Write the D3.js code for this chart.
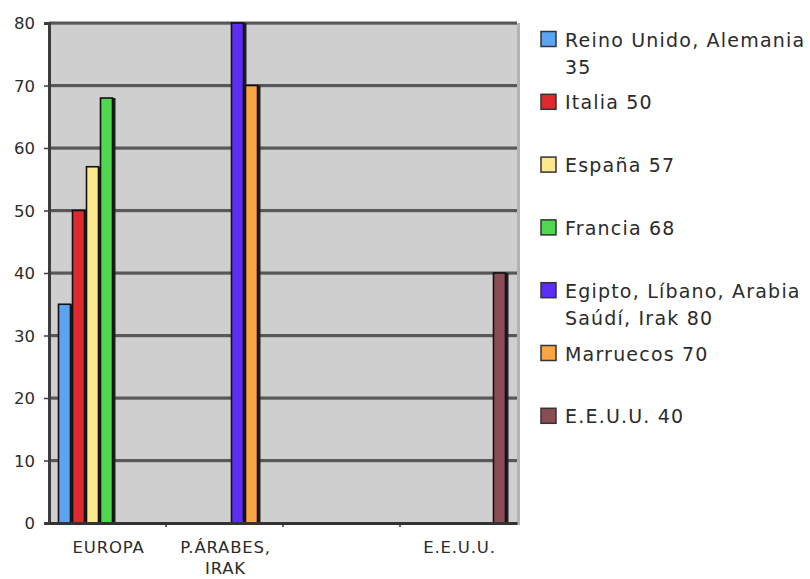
<!DOCTYPE html>
<html>
<head>
<meta charset="utf-8">
<script src="https://cdn.jsdelivr.net/npm/d3@7"></script>
<style>
  html, body { margin: 0; padding: 0; background: #fff; }
  svg { display: block; }
  text { font-family: "DejaVu Sans", sans-serif; fill: #2b2b2b; }
</style>
</head>
<body>
<svg id="chart" width="810" height="579"></svg>
<script>
// Categories along the x axis (the third group has no label)
const categories = ["EUROPA", "P.ÁRABES, IRAK", "", "E.E.U.U."];

// One series per country group, as listed in the legend
const seriesNames = [
  "Reino Unido, Alemania 35",
  "Italia 50",
  "España 57",
  "Francia 68",
  "Egipto, Líbano, Arabia Saúdí, Irak 80",
  "Marruecos 70",
  "E.E.U.U. 40"
];

// Value of each series in each category (0 = no bar)
const reinoUnido = [35, 0, 0, 0];
const italia     = [50, 0, 0, 0];
const espana     = [57, 0, 0, 0];
const francia    = [68, 0, 0, 0];
const egipto     = [0, 80, 0, 0];
const marruecos  = [0, 70, 0, 0];
const eeuu       = [0, 0, 0, 40];
const seriesValues = [reinoUnido, italia, espana, francia, egipto, marruecos, eeuu];

const seriesColors = ["#5aa4f2", "#dd2a2e", "#fbe98c", "#4fd84f", "#5b2ef5", "#fba443", "#8b4d55"];

const yTicks = [0, 10, 20, 30, 40, 50, 60, 70, 80];

const svg = d3.select("#chart");

const plot = { left: 49, right: 517, top: 23, bottom: 523 };

const y = d3.scaleLinear().domain([0, 80]).range([plot.bottom, plot.top]);
const x0 = d3.scaleBand().domain(d3.range(categories.length)).range([plot.left, plot.right]);
const x1 = d3.scaleBand().domain(d3.range(seriesNames.length)).range([9.5, 9.5 + 14 * seriesNames.length]);

// Plot background
svg.append("rect")
  .attr("x", plot.left).attr("y", plot.top)
  .attr("width", plot.right - plot.left).attr("height", plot.bottom - plot.top)
  .attr("fill", "#cfcfcf");

// Right border of the plot area
svg.append("line")
  .attr("x1", plot.right + 1.5).attr("x2", plot.right + 1.5)
  .attr("y1", plot.top).attr("y2", plot.bottom + 2)
  .attr("stroke", "#b3b3b3").attr("stroke-width", 3);

// Horizontal gridlines
const grid = svg.append("g");
yTicks.filter(d => d > 0).forEach(d => {
  grid.append("line")
    .attr("x1", plot.left).attr("x2", plot.right)
    .attr("y1", y(d) + 1.5).attr("y2", y(d) + 1.5)
    .attr("stroke", "#a4a4a4").attr("stroke-width", 1);
  grid.append("line")
    .attr("x1", plot.left).attr("x2", plot.right)
    .attr("y1", y(d)).attr("y2", y(d))
    .attr("stroke", "#585858").attr("stroke-width", 2.8);
});

// Bars: dark shadow on the right, then the coloured bar with a black outline
const bars = [];
seriesValues.forEach((vals, s) => {
  vals.forEach((v, c) => { if (v > 0) bars.push({ s, c, v }); });
});

const barG = svg.append("g");
barG.selectAll("rect.shadow").data(bars).join("rect")
  .attr("class", "shadow")
  .attr("x", d => x0(d.c) + x1(d.s) + 3)
  .attr("y", d => y(d.v))
  .attr("width", 12)
  .attr("height", d => plot.bottom - y(d.v))
  .attr("fill", "#1e1e1e");
barG.selectAll("rect.bar").data(bars).join("rect")
  .attr("class", "bar")
  .attr("x", d => x0(d.c) + x1(d.s))
  .attr("y", d => y(d.v))
  .attr("width", 12)
  .attr("height", d => plot.bottom - y(d.v))
  .attr("fill", d => seriesColors[d.s])
  .attr("stroke", "#111")
  .attr("stroke-width", 1.6);

// Y axis
const yAxis = svg.append("g").attr("transform", `translate(${plot.left},0)`)
  .call(d3.axisLeft(y).tickValues(yTicks).tickSize(5).tickPadding(9).tickFormat(d3.format("d")));
yAxis.select(".domain").attr("stroke", "#3c3c3c").attr("stroke-width", 3);
yAxis.selectAll(".tick line").attr("stroke", "#3c3c3c").attr("stroke-width", 1.5);
yAxis.selectAll(".tick text")
  .attr("font-size", 16.5).attr("font-family", "DejaVu Sans, sans-serif")
  .attr("fill", "#2b2b2b").attr("dy", "0.36em");

// X axis
const xAxis = svg.append("g").attr("transform", `translate(0,${plot.bottom})`)
  .call(d3.axisBottom(x0).tickSize(0).tickFormat(""));
xAxis.select(".domain").attr("stroke", "#333").attr("stroke-width", 3);
// category boundary ticks
x0.domain().slice(1).forEach(c => {
  xAxis.append("line")
    .attr("x1", x0(c)).attr("x2", x0(c))
    .attr("y1", 0).attr("y2", 4)
    .attr("stroke", "#333").attr("stroke-width", 1.5);
});

// Wrap words into lines no wider than maxWidth
function wrapLines(textSel, words, maxWidth) {
  const lines = [];
  let cur = [];
  const probe = textSel.append("tspan");
  words.forEach(w => {
    const test = cur.concat([w]).join(" ");
    probe.text(test);
    if (probe.node().getComputedTextLength() > maxWidth && cur.length) {
      lines.push(cur.join(" "));
      cur = [w];
    } else {
      cur.push(w);
    }
  });
  if (cur.length) lines.push(cur.join(" "));
  probe.remove();
  return lines;
}

// Category labels, wrapped to the band width
const catLabels = svg.append("g");
categories.forEach((name, i) => {
  if (!name) return;
  const t = catLabels.append("text")
    .attr("text-anchor", "middle")
    .attr("font-size", 16.5)
    .attr("letter-spacing", 0.8);
  const lines = wrapLines(t, name.split(" "), x0.bandwidth() - 8);
  lines.forEach((ln, k) => {
    t.append("tspan")
      .attr("x", x0(i) + x0.bandwidth() / 2 + 1)
      .attr("y", 553 + k * 21)
      .text(ln);
  });
});

// Legend
const legend = svg.append("g");
const legendX = 541, legendTextX = 565, legendTop = 39.5, legendStep = 62.8;
seriesNames.forEach((name, i) => {
  const cy = legendTop + i * legendStep;
  legend.append("rect")
    .attr("x", legendX).attr("y", cy - 8)
    .attr("width", 15).attr("height", 15)
    .attr("fill", seriesColors[i])
    .attr("stroke", "#333").attr("stroke-width", 1.5);
  const t = legend.append("text")
    .attr("font-size", 19)
    .attr("letter-spacing", 1.2);
  const lines = wrapLines(t, name.split(" "), 810 - legendTextX - 1);
  lines.forEach((ln, k) => {
    t.append("tspan")
      .attr("x", legendTextX)
      .attr("y", cy + 7 + k * 27)
      .text(ln);
  });
});
</script>
</body>
</html>
